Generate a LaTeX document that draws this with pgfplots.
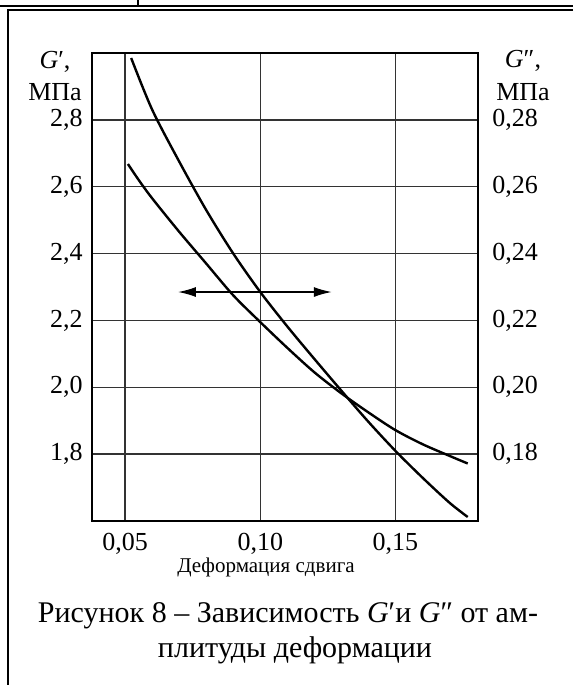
\documentclass[border=0pt]{standalone}
\usepackage{fontspec}
\setmainfont{Liberation Serif}
\usepackage{pgfplots}
\pgfplotsset{compat=1.18}
\usetikzlibrary{arrows.meta}

% G' (left axis), MPa
\pgfplotstableread{
x      g
0.051  2.668
0.055  2.620
0.060  2.565
0.070  2.465
0.080  2.370
0.090  2.275
0.100  2.195
0.110  2.118
0.120  2.045
0.130  1.982
0.140  1.925
0.150  1.872
0.160  1.830
0.170  1.795
0.1768 1.772
}\gone
% G'' (right axis), MPa
\pgfplotstableread{
x      g
0.0522 0.2985
0.060  0.2830
0.070  0.2675
0.080  0.2530
0.090  0.2400
0.100  0.2285
0.110  0.2182
0.120  0.2085
0.130  0.1990
0.140  0.1897
0.150  0.1810
0.160  0.1730
0.170  0.1655
0.1768 0.1612
}\gtwo

\begin{document}
\begin{tikzpicture}
\pgfplotsset{
  common/.style={
    at={(0,0)}, anchor=south west,
    scale only axis, width=193pt, height=234pt,
    xmin=0.0377, xmax=0.1806,
    major tick length=0pt,
    ticklabel style={font=\fontsize{13}{15}\selectfont, inner sep=0pt},
  }
}
\begin{axis}[common,
    ymin=1.6, ymax=3.0,
    xtick={0.05,0.10,0.15},
    xticklabels={{0,05},{0,10},{0,15}},
    ytick={1.8,2.0,2.2,2.4,2.6,2.8},
    yticklabels={{1,8},{2,0},{2,2},{2,4},{2,6},{2,8}},
    xticklabel style={anchor=north, yshift=-6pt},
    yticklabel style={anchor=east, xshift=-4.5pt},
    grid=major,
    major grid style={black!80, line width=0.75pt},
    axis line style={line width=1.1pt},
    clip=false,
]
\addplot[black, line width=1.2pt, smooth] table[x=x, y=g] {\gone};
\draw[{Latex[length=9pt,width=5pt]}-{Latex[length=9pt,width=5pt]}, line width=0.8pt]
  (axis cs:0.0695,2.285) -- (axis cs:0.1265,2.285);
\end{axis}
\begin{axis}[common,
    ymin=0.16, ymax=0.30,
    hide x axis,
    axis y line*=right,
    y axis line style={line width=1.1pt},
    ytick={0.18,0.20,0.22,0.24,0.26,0.28},
    yticklabels={{0,18},{0,20},{0,22},{0,24},{0,26},{0,28}},
    yticklabel style={anchor=west, xshift=7pt},
    clip=false,
]
\addplot[black, line width=1.2pt, smooth] table[x=x, y=g] {\gtwo};
\end{axis}

% axis titles
\begin{scope}[every node/.style={font=\fontsize{13}{15}\selectfont, inner sep=0pt}]
\node at (-18.5pt,229.5pt) {\textit{G}′,};
\node at (-18.5pt,214.5pt) {МПа};
\node at (215.5pt,230pt) {\textit{G}″,};
\node at (215.5pt,214.5pt) {МПа};
\end{scope}
\node[font=\fontsize{10.5}{12}\selectfont, inner sep=0pt] at (87pt,-23pt) {Деформация сдвига};

% caption
\node[font=\fontsize{15}{18}\selectfont, anchor=base, inner sep=0pt] at (98pt,-50.5pt)
  {Рисунок 8 – Зависимость \textit{G}′и \textit{G}″ от ам-};
\node[font=\fontsize{15}{18}\selectfont, anchor=base, inner sep=0pt] at (101.5pt,-68pt)
  {плитуды деформации};

% page frame
\draw[line width=1pt] (-46pt,257.25pt) -- (240.5pt,257.25pt);
\draw[line width=0.8pt] (23pt,260.5pt) -- (23pt,257.25pt);
\draw[line width=1pt] (240.5pt,255.25pt) -- (-42pt,255.25pt) -- (-42pt,-82pt);

\pgfresetboundingbox
\path[use as bounding box] (-46pt,-82pt) rectangle (240.5pt,260.5pt);
\end{tikzpicture}
\end{document}
